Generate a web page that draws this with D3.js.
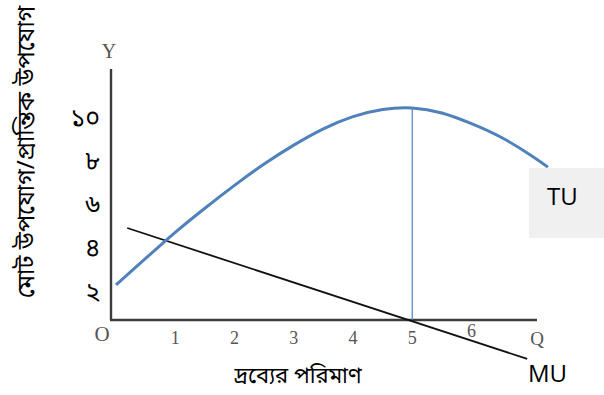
<!DOCTYPE html>
<html><head><meta charset="utf-8">
<script src="https://cdn.jsdelivr.net/npm/d3@7"></script>
<style>
html,body{margin:0;padding:0;background:#fff;}
svg{display:block;}
.bn{font-family:"Noto Sans Bengali","Noto Serif Bengali","Lohit Bengali","Vrinda","Noto Sans",sans-serif;}
.serif{font-family:"Liberation Serif","DejaVu Serif",serif;}
.sans{font-family:"Open Sans","Liberation Sans",sans-serif;}
</style></head>
<body>
<script>
// ---- data ----
const tuQ = [0, 0.5, 1, 1.5, 2, 2.5, 3, 3.5, 4, 4.5, 5, 5.5, 6, 6.5, 7, 7.29];
const tuV = [1.61, 2.83, 4.03, 5.14, 6.19, 7.17, 8.04, 8.79, 9.35, 9.68, 9.75, 9.52, 9.03, 8.40, 7.58, 7.03];
const muQ = [0.19, 6.94];
const muV = [4.23, -1.79];
const peakQ = 5;
const peakV = 9.75;
const xTicks = [1, 2, 3, 4, 5, 6];
const xTickLabels = ["1", "2", "3", "4", "5", "6"];
const yTicks = [2, 4, 6, 8, 10];
const yTickLabels = ["২", "৪", "৬", "৮", "১০"];
const xTitle = "দ্রব্যের পরিমাণ";
const yTitle = "মোট উপযোগ/প্রান্তিক উপযোগ";

const W = 604, H = 395;
const svg = d3.select("body").append("svg").attr("width", W).attr("height", H);

const x = d3.scaleLinear().domain([0, 7]).range([116, 116 + 7 * 59.25]);
const y = d3.scaleLinear().domain([0, 10]).range([320, 102.5]);

// TU label box
svg.append("rect").attr("x", 529).attr("y", 168).attr("width", 75).attr("height", 70).attr("fill", "#f0f0f0");
svg.append("text").attr("class", "sans").attr("x", 547).attr("y", 205)
  .attr("font-size", 24).attr("fill", "#000").text("TU");

// axes
const axisColor = "#3c3c3c";
svg.append("line").attr("x1", 111).attr("x2", 111).attr("y1", 69).attr("y2", y(0))
  .attr("stroke", axisColor).attr("stroke-width", 2.4);
svg.append("line").attr("x1", 110).attr("x2", 537).attr("y1", y(0)).attr("y2", y(0))
  .attr("stroke", axisColor).attr("stroke-width", 2.4);

// x tick labels
svg.selectAll(".xt").data(xTicks).enter().append("text")
  .attr("class", "serif xt")
  .attr("x", d => x(d))
  .attr("y", d => d === 6 ? 337 : 344)
  .attr("text-anchor", "middle").attr("font-size", 18).attr("fill", "#555")
  .text((d, i) => xTickLabels[i]);
svg.append("text").attr("class", "serif").attr("x", 102).attr("y", 341)
  .attr("text-anchor", "middle").attr("font-size", 21).attr("fill", "#555").text("O");
svg.append("text").attr("class", "serif").attr("x", 537).attr("y", 345)
  .attr("text-anchor", "middle").attr("font-size", 19).attr("fill", "#555").text("Q");
svg.append("text").attr("class", "serif").attr("x", 109).attr("y", 58)
  .attr("text-anchor", "middle").attr("font-size", 20).attr("fill", "#555").text("Y");

// y tick labels
svg.selectAll(".yt").data(yTicks).enter().append("text")
  .attr("class", "bn yt")
  .attr("x", 100).attr("y", d => y(d) + 16.5)
  .attr("dominant-baseline", "central")
  .attr("text-anchor", "end").attr("font-size", 25).attr("fill", "#000")
  .text((d, i) => yTickLabels[i]);

// vertical line at peak
svg.append("line").attr("x1", x(peakQ)).attr("x2", x(peakQ)).attr("y1", y(0)).attr("y2", y(peakV))
  .attr("stroke", "#4f81bd").attr("stroke-width", 1.2);

// MU line
const muData = muQ.map((q, i) => [q, muV[i]]);
svg.append("path").datum(muData)
  .attr("d", d3.line().x(d => x(d[0])).y(d => y(d[1])))
  .attr("fill", "none").attr("stroke", "#111").attr("stroke-width", 1.8);

// TU curve
const tuData = tuQ.map((q, i) => [q, tuV[i]]);
svg.append("path").datum(tuData)
  .attr("d", d3.line().x(d => x(d[0])).y(d => y(d[1])).curve(d3.curveNatural))
  .attr("fill", "none").attr("stroke", "#4f81bd").attr("stroke-width", 3);

// labels
svg.append("text").attr("class", "sans").attr("x", 528).attr("y", 382)
  .attr("font-size", 24).attr("fill", "#000").text("MU");
svg.append("text").attr("class", "bn").attr("x", 298).attr("y", 383)
  .attr("text-anchor", "middle").attr("font-size", 22).attr("fill", "#000").text(xTitle);
svg.append("text").attr("class", "bn")
  .attr("transform", "translate(34,152) rotate(-90)")
  .attr("text-anchor", "middle").attr("font-size", 24).attr("fill", "#000").text(yTitle);
</script>
</body></html>
